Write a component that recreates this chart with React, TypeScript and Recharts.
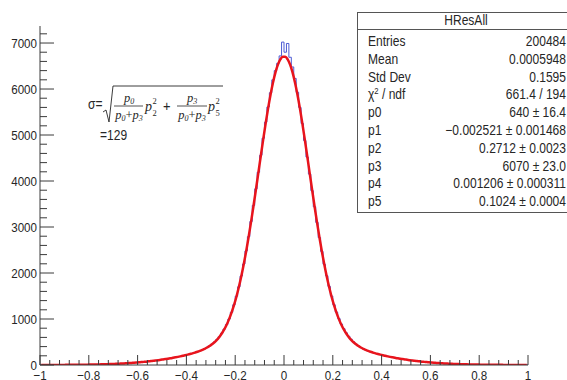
import { Line, LineChart, XAxis, YAxis } from "recharts";

// histogram HResAll: 200 bins on [-1, 1]
const BIN_LOW = -1;
const BIN_WIDTH = 0.01;

// bins -1.00 .. -0.01 (left edge order)
const histLeft = [
  1, 0, 1, 1, 2, 1, 2, 2, 3, 2,
  3, 3, 4, 4, 5, 5, 6, 6, 7, 8,
  9, 10, 12, 12, 14, 15, 17, 18, 20, 22,
  24, 27, 29, 31, 36, 38, 42, 45, 50, 53,
  57, 64, 67, 74, 78, 86, 90, 99, 104, 114,
  122, 128, 139, 146, 158, 166, 178, 186, 201, 211,
  226, 240, 252, 272, 288, 306, 330, 356, 385, 416,
  455, 500, 552, 615, 690, 780, 880, 1000, 1145, 1310,
  1495, 1700, 1935, 2195, 2480, 2790, 3120, 3470, 3830, 4190,
  4560, 4930, 5280, 5610, 5920, 6200, 6400, 6560, 6720, 7020,
];
// bins 0.00 .. 0.99
const histRight = [
  6800, 6990, 6690, 6480, 6230, 5930, 5600, 5250, 4880, 4520,
  4150, 3790, 3440, 3100, 2770, 2470, 2190, 1940, 1710, 1500,
  1310, 1150, 1010, 890, 790, 700, 625, 560, 505, 455,
  415, 378, 352, 326, 304, 285, 268, 252, 238, 226,
  210, 199, 189, 175, 168, 156, 148, 137, 130, 120,
  114, 104, 99, 92, 84, 80, 72, 69, 62, 59,
  52, 50, 44, 42, 37, 36, 31, 30, 25, 24,
  23, 19, 18, 17, 14, 14, 12, 10, 11, 8,
  9, 7, 6, 5, 6, 4, 3, 4, 3, 2,
  3, 2, 1, 2, 1, 1, 2, 0, 1, 1,
];

// fit curve read at bin centres
const fitLeft = [
  1, 1, 1, 1, 1, 2, 2, 2, 2, 2,
  3, 3, 4, 4, 4, 5, 6, 6, 7, 8,
  9, 10, 11, 12, 13, 15, 16, 18, 20, 22,
  24, 26, 29, 32, 35, 38, 41, 45, 49, 53,
  58, 63, 68, 73, 79, 85, 91, 98, 105, 113,
  121, 129, 138, 147, 157, 167, 177, 188, 200, 212,
  225, 239, 253, 270, 287, 306, 328, 351, 380, 412,
  450, 495, 548, 610, 685, 773, 876, 997, 1138, 1300,
  1484, 1694, 1929, 2189, 2474, 2782, 3111, 3457, 3816, 4182,
  4549, 4910, 5258, 5585, 5882, 6142, 6361, 6529, 6644, 6703,
];
const fitRight = [
  6703, 6644, 6529, 6361, 6142, 5882, 5585, 5258, 4910, 4549,
  4182, 3816, 3457, 3111, 2782, 2474, 2189, 1929, 1694, 1484,
  1300, 1138, 997, 876, 773, 685, 610, 548, 495, 450,
  412, 380, 351, 328, 306, 287, 270, 253, 239, 225,
  212, 200, 188, 177, 167, 157, 147, 138, 129, 121,
  113, 105, 98, 91, 85, 79, 73, 68, 63, 58,
  53, 49, 45, 41, 38, 35, 32, 29, 26, 24,
  22, 20, 18, 16, 15, 13, 12, 11, 10, 9,
  8, 7, 6, 6, 5, 4, 4, 4, 3, 3,
  2, 2, 2, 2, 2, 1, 1, 1, 1, 1,
];

const xLabels = [-1, -0.8, -0.6, -0.4, -0.2, 0, 0.2, 0.4, 0.6, 0.8, 1];
const yLabels = [0, 1000, 2000, 3000, 4000, 5000, 6000, 7000];

const statsTitle = "HResAll";
const statsNames = ["Entries", "Mean", "Std Dev", "chi2", "p0", "p1", "p2", "p3", "p4", "p5"];
const statsValues = [
  "200484", "0.0005948", "0.1595", "661.4 / 194", "640 \u00b1 16.4",
  "\u22120.002521 \u00b1 0.001468", "0.2712 \u00b1 0.0023", "6070 \u00b1 23.0",
  "0.001206 \u00b1 0.000311", "0.1024 \u00b1 0.0004",
];

const AXIS = "#3a3a3a";
const TEXT = "#262626";
const SANS = "'Liberation Sans', Arial, sans-serif";
const SERIF = "'Liberation Serif', 'DejaVu Serif', serif";
const NARROW = 0.86;

const histCounts = [...histLeft, ...histRight];
const histRows = histCounts
  .map((count, i) => ({ x: +(BIN_LOW + i * BIN_WIDTH).toFixed(3), count }))
  .concat({ x: 1, count: histCounts[histCounts.length - 1] });
const fitRows = [...fitLeft, ...fitRight].map((value, i) => ({ x: +(BIN_LOW + (i + 0.5) * BIN_WIDTH).toFixed(3), value }));

const xTicks = Array.from({ length: 51 }, (_, i) => +(-1 + i * 0.04).toFixed(2));
const yTicks = Array.from({ length: 37 }, (_, i) => i * 200);

function xLabel(v: number) {
  if (v === 0) return "0";
  return v < 0 ? `\u2212${Math.abs(v)}` : `${v}`;
}

// ROOT-ish narrow sans text
function NText({ x, y, size, anchor = "start", children }: { x: number; y: number; size: number; anchor?: "start" | "middle" | "end"; children: any }) {
  return <text transform={`translate(${x},${y}) scale(${NARROW},1)`} textAnchor={anchor} fontSize={size} fontFamily={SANS} fill={TEXT}>{children}</text>;
}

function XTick({ x, y, payload }: any) {
  const v = Number(payload.value);
  const major = xLabels.some((m) => Math.abs(m - v) < 1e-6);
  return <g>
    <line x1={x} x2={x} y1={y} y2={y - (major ? 10 : 5)} stroke={AXIS} />
    {major && <NText x={x} y={y + 15} size={13.5} anchor="middle">{xLabel(v)}</NText>}
  </g>;
}

function YTick({ x, y, payload }: any) {
  const v = Number(payload.value);
  const major = yLabels.includes(v);
  return <g>
    <line x1={x} x2={x + (major ? 14 : 7)} y1={y} y2={y} stroke={AXIS} />
    {major && <NText x={x - 3} y={y + 5} size={13.5} anchor="end">{v}</NText>}
  </g>;
}

function StatsBox() {
  const rowY = (i: number) => 46 + i * 17.8;
  return <g>
    <rect x={357.5} y={12.5} width={220} height={200} fill="#fff" stroke="#555" />
    <line x1={357.5} x2={577} y1={29.5} y2={29.5} stroke="#555" />
    <NText x={466} y={25} size={14} anchor="middle">{statsTitle}</NText>
    {statsNames.map((name, i) => name === "chi2"
      ? <NText key={name} x={368} y={rowY(i)} size={14}>{"\u03c7"}<tspan fontSize={9} dy={-5}>2</tspan><tspan dy={5}>{" / ndf"}</tspan></NText>
      : <NText key={name} x={368} y={rowY(i)} size={14}>{name}</NText>)}
    {statsValues.map((value, i) => <NText key={i} x={566} y={rowY(i)} size={14} anchor="end">{value}</NText>)}
  </g>;
}

function Fraction({ cx, num, lineFrom, lineTo }: { cx: number; num: string; lineFrom: number; lineTo: number }) {
  return <g fontFamily={SERIF} fontStyle="italic" fill={TEXT}>
    <text x={cx} y={102} textAnchor="middle" fontSize={12.5}>p<tspan fontSize={8} dy={2}>{num}</tspan></text>
    <line x1={lineFrom} x2={lineTo} y1={106} y2={106} stroke={TEXT} strokeWidth={0.8} />
    <text x={cx} y={119} textAnchor="middle" fontSize={12.5}>p<tspan fontSize={8} dy={2}>0</tspan><tspan dy={-2} fontStyle="normal">+</tspan>p<tspan fontSize={8} dy={2}>3</tspan></text>
  </g>;
}

function Squared({ x, sub }: { x: number; sub: string }) {
  return <g fontFamily={SERIF} fontStyle="italic" fill={TEXT}>
    <text x={x} y={111} fontSize={14}>p</text>
    <text x={x + 7.5} y={116} fontSize={8.5} fontStyle="normal">{sub}</text>
    <text x={x + 7.5} y={104} fontSize={8.5} fontStyle="normal">2</text>
  </g>;
}

function Formula() {
  return <g>
    <NText x={88} y={109} size={14}>{"\u03c3="}</NText>
    <path d="M103,112 L106,110 L109,122 L113,86 L223,86" fill="none" stroke={TEXT} strokeWidth={0.9} />
    <Fraction cx={129} num="0" lineFrom={114} lineTo={143} />
    <Squared x={145} sub="2" />
    <NText x={163} y={111} size={15}>+</NText>
    <Fraction cx={192} num="3" lineFrom={177} lineTo={207} />
    <Squared x={208} sub="5" />
    <NText x={100} y={140} size={14}>=129</NText>
  </g>;
}

export default function App() {
  return <div style={{ position: "absolute", left: 0, top: 0, width: 567, height: 380, background: "#fff", overflow: "hidden" }}>
    <LineChart width={567} height={380} margin={{ top: 26, right: 39, bottom: 0, left: 0 }}>
      <XAxis xAxisId="b" dataKey="x" type="number" domain={[-1, 1]} ticks={xTicks} interval={0} tick={<XTick />} tickSize={0} tickMargin={0} tickLine={false} axisLine={{ stroke: AXIS }} height={15} allowDataOverflow />
      <XAxis xAxisId="t" orientation="top" type="number" domain={[-1, 1]} tick={false} tickLine={false} axisLine={{ stroke: AXIS }} height={0} />
      <YAxis yAxisId="l" type="number" domain={[0, 7370]} ticks={yTicks} interval={0} tick={<YTick />} tickSize={0} tickMargin={0} tickLine={false} axisLine={{ stroke: AXIS }} width={40} allowDataOverflow />
      <YAxis yAxisId="r" orientation="right" type="number" domain={[0, 7370]} tick={false} tickLine={false} axisLine={{ stroke: AXIS }} width={0} />
      <Line xAxisId="b" yAxisId="l" data={histRows} dataKey="count" type="stepAfter" stroke="#4d5bd4" strokeWidth={1} dot={false} isAnimationActive={false} />
      <Line xAxisId="b" yAxisId="l" data={fitRows} dataKey="value" type="monotone" stroke="#e8141c" strokeWidth={2.5} dot={false} isAnimationActive={false} />
    </LineChart>
    <svg width={567} height={380} style={{ position: "absolute", left: 0, top: 0, pointerEvents: "none" }}>
      <Formula />
      <StatsBox />
    </svg>
  </div>;
}
